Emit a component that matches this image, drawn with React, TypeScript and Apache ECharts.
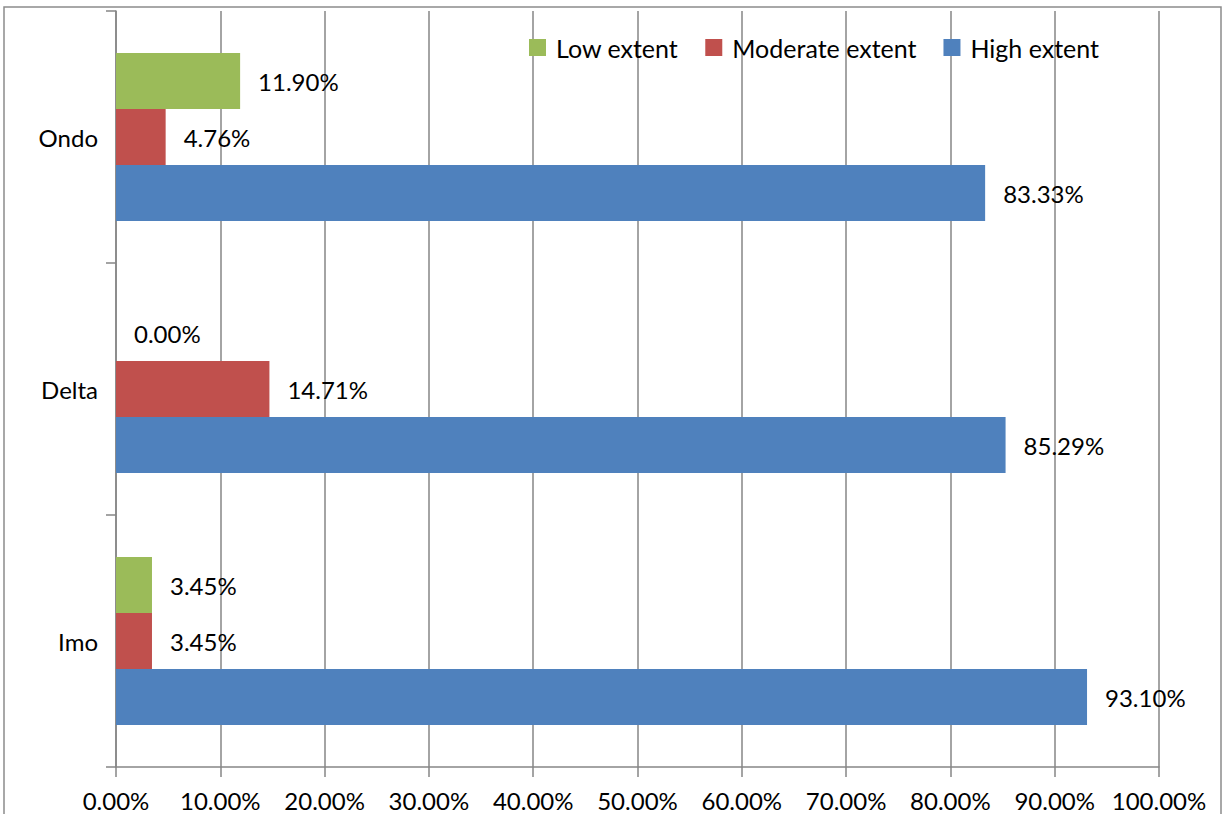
import React, { useEffect, useRef } from "react";
import * as echarts from "echarts";

const categories = ["Imo", "Delta", "Ondo"];
const lowExtent = [3.45, 0.0, 11.9];
const moderateExtent = [3.45, 14.71, 4.76];
const highExtent = [93.1, 85.29, 83.33];
const xTicks = [0, 10, 20, 30, 40, 50, 60, 70, 80, 90, 100];

const FONT = "Lato";
const FS = 24;

export default function App() {
  const ref = useRef<HTMLDivElement>(null);
  useEffect(() => {
    if (!ref.current) return;
    const chart = echarts.init(ref.current, undefined, { renderer: "svg" });
    const label = {
      show: true,
      position: "right",
      distance: 18,
      color: "#000",
      fontFamily: FONT,
      fontSize: FS,
      formatter: (p: any) => Number(p.value).toFixed(2) + "%",
    };
    const mk = (name: string, data: number[], color: string) => ({
      name,
      type: "bar",
      data,
      barWidth: 56,
      barGap: "0%",
      itemStyle: { color },
      label,
    });
    chart.setOption({
      animation: false,
      textStyle: { fontFamily: FONT },
      graphic: [
        {
          type: "rect",
          shape: { x: 4, y: 7, width: 1217, height: 830 },
          style: { fill: "none", stroke: "#8c8c8c", lineWidth: 1.5 },
          silent: true,
        },
      ],
      legend: {
        data: ["Low extent", "Moderate extent", "High extent"],
        left: 529,
        top: 35,
        padding: 0,
        itemWidth: 17,
        itemHeight: 17,
        itemGap: 27,
        icon: "rect",
        textStyle: { fontFamily: FONT, fontSize: 25, color: "#000", padding: [0, 0, 0, 5] },
      },
      grid: { left: 116, right: 64, top: 11, bottom: 47, containLabel: false },
      xAxis: {
        type: "value",
        min: xTicks[0],
        max: xTicks[xTicks.length - 1],
        interval: 10,
        axisLine: { show: true, lineStyle: { color: "#868686", width: 1.5 } },
        axisTick: { show: true, length: 10, inside: false, lineStyle: { color: "#868686", width: 1.5 } },
        splitLine: { show: true, lineStyle: { color: "#868686", width: 1.5 } },
        axisLabel: {
          margin: 21,
          color: "#000",
          fontFamily: FONT,
          fontSize: FS,
          formatter: (v: number) => v.toFixed(2) + "%",
        },
      },
      yAxis: {
        type: "category",
        data: categories,
        axisLine: { show: true, lineStyle: { color: "#868686", width: 1.5 } },
        axisTick: { show: true, length: 10, lineStyle: { color: "#868686", width: 1.5 } },
        splitLine: { show: false },
        axisLabel: { margin: 18, color: "#000", fontFamily: FONT, fontSize: FS },
      },
      series: [
        mk("Low extent", lowExtent, "#9BBB59"),
        mk("Moderate extent", moderateExtent, "#C0504D"),
        mk("High extent", highExtent, "#4F81BD"),
      ],
    });
    return () => chart.dispose();
  }, []);
  return (
    <div
      ref={ref}
      style={{ position: "fixed", left: 0, top: 0, width: 1223, height: 814, background: "#fff" }}
    />
  );
}
